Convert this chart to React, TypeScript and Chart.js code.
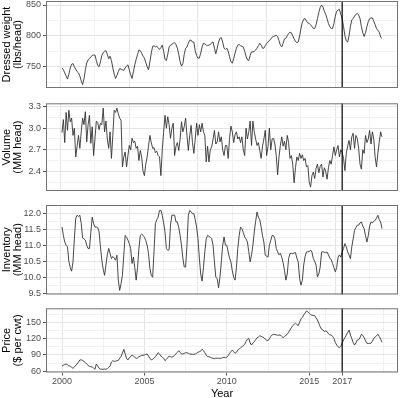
import React, { useEffect, useRef } from "react";
import { Chart, registerables } from "chart.js";

Chart.register(...registerables);

// ---------------- data ----------------
const startYear = 2000; // monthly series, Jan 2000 .. Jun 2019
const markerYear = 2017;
const yearLabels = [2000, 2005, 2010, 2015, 2017];
const indexBreaks = [0, 50, 100, 150, 200];

const weightTicks = [750, 800, 850];
const volumeTicks = [2.4, 2.7, 3.0, 3.3];
const inventoryTicks = [9.5, 10.0, 10.5, 11.0, 11.5, 12.0];
const priceTicks = [60, 90, 120, 150];

const weightTitle = ["Dressed weight", "(lbs/head)"];
const volumeTitle = ["Volume", "(MM head)"];
const inventoryTitle = ["Inventory", "(MM head)"];
const priceTitle = ["Price", "($ per cwt)"];
const xTitle = "Year";

const weight = [
  748, 745, 740, 735, 730, 738, 748, 754, 755, 750, 746, 742,
  740, 735, 727, 721, 730, 745, 756, 761, 763, 766, 768, 769,
  769, 760, 752, 750, 758, 768, 773, 775, 776, 770, 763, 767,
  760, 748, 738, 731, 736, 742, 747, 746, 745, 744, 748, 751,
  753, 745, 737, 731, 742, 753, 762, 770, 777, 776, 772, 767,
  764, 757, 750, 745, 758, 772, 783, 784, 782, 783, 781, 778,
  781, 785, 775, 762, 760, 770, 782, 785, 786, 788, 789, 786,
  780, 770, 758, 751, 755, 770, 780, 782, 788, 793, 793, 790,
  790, 776, 768, 764, 764, 772, 782, 788, 787, 785, 784, 785,
  786, 789, 790, 780, 771, 780, 790, 796, 797, 790, 780, 778,
  780, 775, 766, 758, 756, 763, 772, 780, 785, 786, 784, 783,
  782, 775, 767, 761, 760, 768, 774, 774, 775, 777, 780, 784,
  788, 785, 780, 780, 784, 788, 790, 792, 795, 798, 799, 800,
  801, 799, 792, 785, 782, 788, 795, 796, 800, 804, 806, 805,
  800, 795, 791, 789, 790, 800, 812, 822, 827, 828, 824, 821,
  820, 818, 815, 812, 812, 818, 828, 838, 846, 850, 847, 840,
  835, 828, 820, 815, 812, 812, 820, 832, 840, 842, 843, 835,
  828, 815, 800, 792, 790, 800, 815, 826, 828, 832, 835, 836,
  834, 828, 815, 805, 799, 805, 815, 823, 828, 829, 829, 824,
  818, 812, 809, 806, 798, 796,
];

const volume = [
  2.94, 3.12, 2.80, 3.22, 2.97, 3.25, 3.09, 3.14, 2.90, 3.00, 2.60, 2.75,
  2.90, 2.72, 2.95, 3.14, 3.05, 3.23, 2.81, 3.05, 3.18, 2.79, 3.02, 2.62,
  2.85, 3.10, 3.08, 2.98, 3.07, 3.05, 3.28, 2.95, 3.10, 2.85, 2.72, 2.95,
  2.58, 2.90, 3.25, 3.22, 3.28, 3.20, 3.14, 3.11, 2.46, 2.60, 2.67, 2.46,
  2.62, 2.76, 2.70, 2.86, 2.80, 2.82, 2.72, 2.75, 2.55, 2.69, 2.60, 2.40,
  2.34, 2.50, 2.60, 2.75, 2.90, 2.80, 2.72, 2.73, 2.66, 2.68, 2.62, 2.60,
  2.34, 2.70, 2.95, 3.18, 3.00, 3.16, 3.05, 2.86, 3.00, 3.07, 2.62, 2.75,
  2.80, 2.69, 2.85, 3.09, 2.95, 3.02, 3.14, 2.90, 2.69, 2.90, 3.04, 2.80,
  2.65, 2.85, 3.07, 2.90, 3.05, 2.95, 3.07, 2.95, 2.90, 2.53, 2.75, 2.53,
  2.70, 2.74, 2.85, 2.97, 2.78, 2.81, 2.95, 2.81, 2.88, 2.70, 2.62, 2.76,
  2.76, 2.58, 2.86, 3.03, 2.95, 2.80, 2.91, 2.95, 2.85, 2.88, 2.80, 2.88,
  2.70, 2.62, 3.00, 2.85, 2.95, 3.10, 2.76, 3.10, 2.95, 2.85, 2.76, 2.80,
  2.69, 2.58, 2.75, 2.85, 2.97, 2.62, 2.75, 3.00, 2.70, 2.85, 2.86, 2.78,
  2.62, 2.35, 2.60, 2.76, 2.88, 2.75, 2.82, 2.70, 2.90, 2.80, 2.58, 2.62,
  2.50, 2.24, 2.45, 2.60, 2.55, 2.65, 2.58, 2.63, 2.55, 2.58, 2.46, 2.48,
  2.25, 2.18, 2.34, 2.39, 2.30, 2.44, 2.50, 2.38, 2.47, 2.50, 2.32, 2.45,
  2.40, 2.29, 2.45, 2.55, 2.50, 2.62, 2.74, 2.62, 2.70, 2.76, 2.60, 2.70,
  2.66, 2.58, 2.41, 2.65, 2.75, 2.83, 2.70, 2.88, 2.93, 2.72, 2.90, 2.86,
  2.72, 2.50, 2.43, 2.70, 2.65, 2.90, 2.80, 2.85, 2.97, 2.78, 2.95, 2.85,
  2.60, 2.46, 2.65, 2.81, 2.95, 2.88,
];

const inventory = [
  11.57, 11.31, 11.10, 11.00, 10.95, 10.50, 10.30, 10.19, 10.48, 11.20, 11.85, 11.94,
  11.90, 11.94, 11.68, 11.23, 11.20, 11.16, 11.00, 10.90, 10.90, 11.40, 11.88, 11.68,
  11.57, 11.57, 11.55, 11.42, 10.95, 10.53, 10.25, 10.06, 10.38, 10.70, 10.90, 10.75,
  10.58, 10.65, 10.60, 10.53, 10.69, 9.91, 9.59, 9.80, 10.06, 10.70, 11.31, 11.25,
  11.16, 11.05, 10.90, 10.43, 10.63, 10.30, 9.91, 10.30, 10.90, 11.31, 11.35, 11.31,
  11.25, 11.15, 11.00, 10.74, 10.27, 10.06, 10.00, 10.80, 11.68, 11.80, 11.88, 12.09,
  12.09, 11.94, 11.70, 11.42, 10.90, 10.84, 10.86, 11.63, 11.94, 11.94, 11.94, 11.73,
  11.73, 11.55, 11.31, 11.00, 10.60, 10.32, 10.32, 11.00, 11.94, 12.09, 12.05, 11.99,
  11.99, 11.80, 11.57, 11.21, 10.60, 10.10, 9.88, 10.30, 10.80, 11.20, 11.31, 11.28,
  11.25, 11.21, 11.00, 10.48, 10.00, 9.96, 9.67, 10.00, 10.48, 11.00, 11.26, 11.00,
  11.00, 10.79, 10.60, 10.48, 10.20, 10.00, 9.91, 10.30, 10.90, 11.30, 11.57, 11.52,
  11.40, 11.26, 11.20, 11.10, 10.80, 10.48, 10.70, 11.00, 11.42, 11.75, 12.04, 11.88,
  11.80, 11.57, 11.30, 11.10, 10.69, 10.66, 10.63, 11.00, 11.15, 11.31, 11.30, 11.21,
  10.90, 10.80, 10.70, 10.75, 10.63, 10.45, 10.22, 9.91, 10.10, 10.58, 10.74, 10.75,
  10.74, 10.76, 10.77, 10.60, 10.48, 9.96, 9.75, 9.90, 10.38, 10.65, 10.79, 10.80,
  10.80, 10.85, 10.79, 10.58, 10.50, 10.38, 10.01, 10.10, 10.32, 10.79, 10.80, 10.78,
  10.77, 10.79, 10.70, 10.60, 10.55, 10.43, 10.30, 10.17, 10.30, 10.63, 10.70, 10.63,
  10.79, 10.90, 11.05, 10.95, 10.79, 10.70, 10.58, 10.95, 11.20, 11.47, 11.55, 11.63,
  11.63, 11.70, 11.73, 11.60, 11.52, 11.30, 11.10, 11.30, 11.60, 11.73, 11.70, 11.75,
  11.78, 11.85, 11.94, 11.80, 11.73, 11.52,
];

const price = [
  69.7, 71.0, 72.5, 73.4, 72.0, 70.0, 69.7, 67.0, 65.5, 68.0, 71.0, 73.4,
  77.0, 80.8, 81.0, 79.9, 78.0, 76.0, 73.4, 71.0, 69.0, 68.5, 67.9, 66.0,
  63.7, 73.4, 70.0, 65.5, 64.0, 63.7, 63.7, 64.0, 63.7, 65.0, 67.5, 69.7,
  77.0, 79.5, 78.1, 78.5, 79.5, 80.0, 84.0, 87.0, 93.0, 100.4, 92.0, 83.9,
  80.8, 85.0, 86.8, 89.9, 88.0, 86.0, 83.9, 84.5, 86.8, 88.0, 89.0, 89.4,
  90.0, 91.0, 91.8, 88.0, 84.0, 80.8, 82.0, 84.0, 86.8, 90.0, 94.2, 92.0,
  88.0, 85.7, 84.0, 79.5, 82.0, 85.0, 88.1, 87.0, 85.7, 87.0, 89.9, 92.0,
  95.0, 97.8, 95.0, 91.8, 92.0, 93.0, 94.0, 94.2, 93.0, 92.0, 91.5, 91.2,
  91.0, 92.0, 93.0, 95.0, 96.0, 97.0, 100.4, 98.0, 94.0, 89.9, 87.0, 86.8,
  85.7, 84.5, 83.9, 83.0, 84.0, 83.9, 84.0, 83.9, 84.0, 85.0, 86.0, 85.0,
  86.0, 88.7, 93.0, 96.0, 99.1, 96.0, 93.1, 95.0, 99.1, 101.0, 103.0, 105.2,
  107.0, 109.6, 115.0, 119.0, 120.6, 112.0, 108.3, 112.0, 114.4, 118.0, 121.7, 123.0,
  125.4, 124.0, 123.0, 121.7, 119.0, 117.0, 116.2, 120.0, 124.0, 126.7, 128.0, 127.5,
  127.0, 126.0, 126.7, 126.7, 124.0, 121.7, 124.0, 126.0, 128.0, 132.0, 135.9, 140.0,
  143.8, 146.0, 148.2, 146.0, 143.8, 150.0, 156.1, 159.0, 163.4, 167.0, 170.8, 169.0,
  166.5, 164.0, 163.0, 162.5, 162.1, 158.0, 154.2, 148.0, 141.9, 137.0, 135.9, 133.0,
  134.0, 133.0, 129.0, 126.7, 127.0, 124.0, 120.6, 113.0, 108.3, 105.0, 103.4, 106.0,
  112.0, 117.5, 122.0, 126.7, 131.0, 135.9, 127.0, 120.0, 113.0, 108.3, 112.0, 117.5,
  118.0, 122.0, 128.0, 126.0, 121.7, 116.0, 111.4, 111.0, 111.4, 111.5, 115.0, 120.6,
  123.0, 125.0, 128.0, 124.0, 119.0, 113.3,
];

// ---------------- layout / style ----------------
const W = 400;
const H = 398;
const FONT = "'Liberation Sans', Arial, Helvetica, sans-serif";
const PLOT_LEFT = 46;
const PLOT_RIGHT_PAD = 2;
const GRID_MAJOR = "#e4e4e4";
const GRID_MINOR = "#f1f1f1";
const TICK_COLOR = "#555555";
const LABEL_COLOR = "#4d4d4d";
const FRAME_COLOR = "#737373";
const LINE_COLOR = "#333333";

Chart.defaults.font.family = FONT;

type Panel = {
  values: number[];
  ticks: number[];
  decimals: number;
  min: number;
  max: number;
  title: string[];
  top: number;
  bottom: number;
  showX: boolean;
};

const panels: Panel[] = [
  { values: weight, ticks: weightTicks, decimals: 0, min: 715.5, max: 856.5, title: weightTitle, top: 1, bottom: 88, showX: false },
  { values: volume, ticks: volumeTicks, decimals: 1, min: 2.126, max: 3.347, title: volumeTitle, top: 103.3, bottom: 191, showX: false },
  { values: inventory, ticks: inventoryTicks, decimals: 1, min: 9.46, max: 12.26, title: inventoryTitle, top: 205, bottom: 294.5, showX: false },
  { values: price, ticks: priceTicks, decimals: 0, min: 57.8, max: 175.7, title: priceTitle, top: 308.3, bottom: 372.5, showX: true },
];

function monthIndex(year: number) {
  return (year - startYear) * 12 + 1;
}

function minorBreaks(b: number[], min: number, max: number) {
  const bd = b[1] - b[0];
  const ext = [b[0] - bd, ...b, b[b.length - 1] + bd];
  const out: number[] = [];
  for (let i = 0; i < ext.length - 1; i++) {
    const m = (ext[i] + ext[i + 1]) / 2;
    if (m > min && m < max) out.push(m);
  }
  return out;
}

const near = (arr: number[], v: number) => arr.findIndex((m) => Math.abs(m - v) < 1e-6);

const framePlugin = {
  id: "frame",
  afterDatasetsDraw(chart: any) {
    const { ctx, chartArea: a, scales } = chart;
    const xv = scales.x.getPixelForValue(monthIndex(markerYear));
    ctx.save();
    ctx.strokeStyle = "#000000";
    ctx.lineWidth = 1.2;
    ctx.beginPath();
    ctx.moveTo(xv, a.top);
    ctx.lineTo(xv, a.bottom);
    ctx.stroke();
    ctx.strokeStyle = FRAME_COLOR;
    ctx.lineWidth = 1;
    ctx.strokeRect(a.left + 0.5, a.top + 0.5, a.right - a.left - 1, a.bottom - a.top - 1);
    ctx.restore();
  },
};

function makeConfig(p: Panel): any {
  const n = p.values.length;
  const xPad = 0.05 * (n - 1);
  const xMin = 1 - xPad;
  const xMax = n + xPad;
  const xMajor = p.showX ? yearLabels.map(monthIndex) : indexBreaks;
  const xMinor = minorBreaks(xMajor, xMin, xMax);
  const xAll = [...xMajor, ...xMinor].sort((a, b) => a - b);
  const yMinor = minorBreaks(p.ticks, p.min, p.max);
  const yAll = [...p.ticks, ...yMinor].sort((a, b) => a - b);

  const zeroPad = (s: any) => {
    s.paddingLeft = 0;
    s.paddingRight = 0;
    s.paddingTop = 0;
    s.paddingBottom = 0;
  };

  return {
    type: "line",
    data: {
      datasets: [
        {
          data: p.values.map((v, i) => ({ x: i + 1, y: v })),
          borderColor: LINE_COLOR,
          borderWidth: 0.9,
          pointRadius: 0,
          tension: 0,
          fill: false,
        },
      ],
    },
    options: {
      animation: false,
      responsive: false,
      maintainAspectRatio: false,
      events: [],
      layout: {
        padding: {
          top: p.top,
          bottom: p.showX ? 0 : H - p.bottom,
          left: 0,
          right: PLOT_RIGHT_PAD,
        },
      },
      plugins: {
        legend: { display: false },
        tooltip: { enabled: false },
        title: { display: false },
      },
      scales: {
        x: {
          type: "linear",
          min: xMin,
          max: xMax,
          afterBuildTicks: (s: any) => {
            s.ticks = xAll.map((v) => ({ value: v }));
          },
          afterFit: (s: any) => {
            s.height = p.showX ? H - p.bottom : 0;
            zeroPad(s);
          },
          border: { display: false },
          grid: {
            color: (c: any) => (near(xMajor, c.tick.value) >= 0 ? GRID_MAJOR : GRID_MINOR),
            lineWidth: 1,
            drawTicks: p.showX,
            tickLength: 3,
            tickWidth: 1,
            tickColor: (c: any) => (near(xMajor, c.tick.value) >= 0 ? TICK_COLOR : "rgba(0,0,0,0)"),
          },
          ticks: {
            display: p.showX,
            autoSkip: false,
            maxRotation: 0,
            minRotation: 0,
            padding: 1,
            color: LABEL_COLOR,
            font: { family: FONT, size: 9 },
            callback: (v: any) => {
              const k = near(xMajor, Number(v));
              return p.showX && k >= 0 ? String(yearLabels[k]) : "";
            },
          },
          title: {
            display: p.showX,
            text: xTitle,
            color: "#000000",
            font: { family: FONT, size: 11, lineHeight: 1 },
            padding: { top: 0, bottom: -1.5 },
          },
        },
        y: {
          type: "linear",
          position: "left",
          min: p.min,
          max: p.max,
          afterBuildTicks: (s: any) => {
            s.ticks = yAll.map((v) => ({ value: v }));
          },
          afterFit: (s: any) => {
            s.width = PLOT_LEFT;
            zeroPad(s);
          },
          border: { display: false },
          grid: {
            color: (c: any) => (near(p.ticks, c.tick.value) >= 0 ? GRID_MAJOR : GRID_MINOR),
            lineWidth: 1,
            drawTicks: true,
            tickLength: 3,
            tickWidth: 1,
            tickColor: (c: any) => (near(p.ticks, c.tick.value) >= 0 ? TICK_COLOR : "rgba(0,0,0,0)"),
          },
          ticks: {
            autoSkip: false,
            padding: 2,
            color: LABEL_COLOR,
            font: { family: FONT, size: 9 },
            callback: (v: any) => {
              const k = near(p.ticks, Number(v));
              return k >= 0 ? p.ticks[k].toFixed(p.decimals) : "";
            },
          },
          title: {
            display: true,
            text: p.title,
            color: "#000000",
            font: { family: FONT, size: 11, lineHeight: 1 },
            padding: { top: 1.5, bottom: 0 },
          },
        },
      },
    },
    plugins: [framePlugin],
  };
}

function PanelChart({ panel }: { panel: Panel }) {
  const ref = useRef<HTMLCanvasElement | null>(null);
  useEffect(() => {
    if (!ref.current) return;
    const chart = new Chart(ref.current, makeConfig(panel));
    return () => chart.destroy();
  }, [panel]);
  return (
    <canvas
      ref={ref}
      width={W}
      height={H}
      style={{ position: "absolute", left: 0, top: 0, width: W, height: H }}
    />
  );
}

export default function App() {
  useEffect(() => {
    document.body.style.margin = "0";
  }, []);
  return (
    <div
      style={{
        position: "absolute",
        left: 0,
        top: 0,
        width: W,
        height: H,
        background: "#ffffff",
        overflow: "hidden",
      }}
    >
      {panels.map((p, i) => (
        <PanelChart key={i} panel={p} />
      ))}
    </div>
  );
}
